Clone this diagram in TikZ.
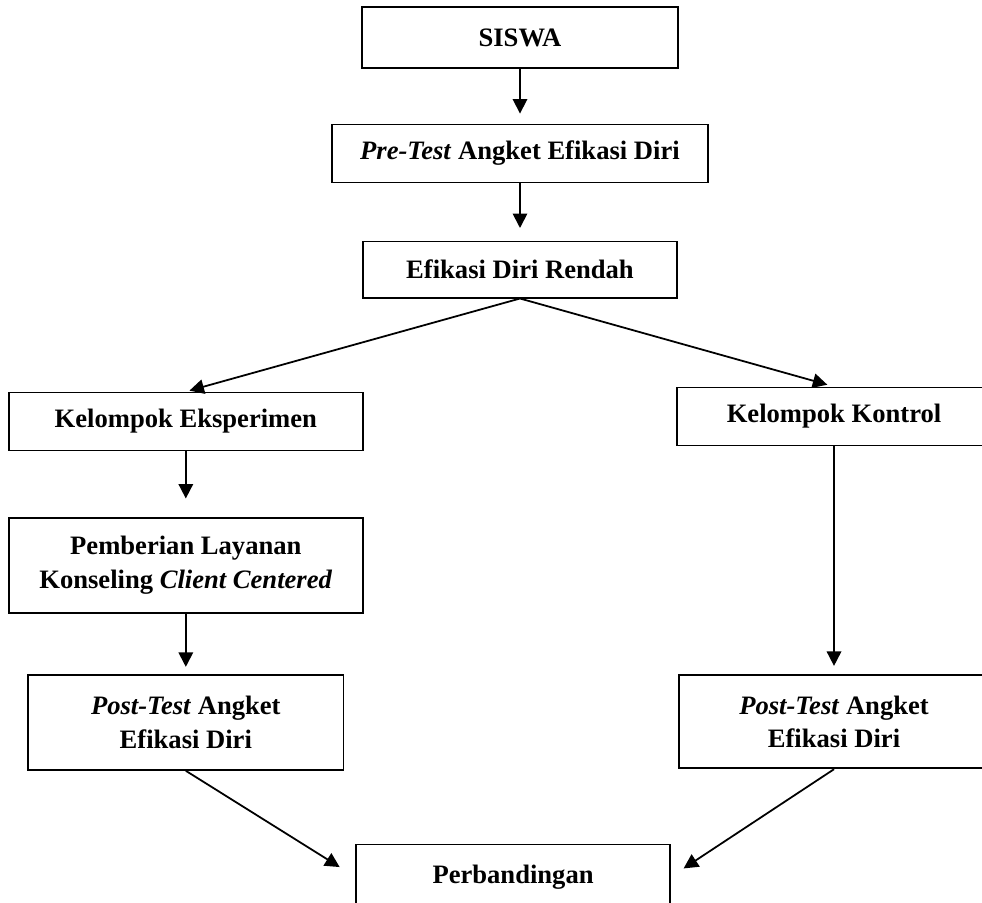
\documentclass[tikz,border=0pt]{standalone}
\usepackage{fontspec}
\setmainfont{Liberation Serif}
\usetikzlibrary{arrows.meta}

\tikzstyle{box} = [rectangle, minimum width=4.98cm, minimum height=0.92cm, inner sep=0pt, text centered, draw=black, thick, font=\fontsize{12}{15}\selectfont\bfseries]
\tikzstyle{boxtall} = [box, minimum height=1.51cm, align=center]
\tikzstyle{arrow} = [thick,-{Triangle[length=0.23cm,width=0.23cm]}]

\begin{document}
\begin{tikzpicture}[node distance=1.84cm]
		\useasboundingbox (0,0) rectangle (15.574,-14.321);
		
		\node (siswa) [box, minimum width=5.01cm, minimum height=0.97cm] at (8.247,-0.595) {SISWA};
		\node (pretest) [box, minimum width=5.96cm, below of=siswa] {\textit{Pre-Test} Angket Efikasi Diri};
		\node (rendah) [box, minimum height=0.89cm, below of=pretest] {Efikasi Diri Rendah};
		
		\node (eksperimen) [box, minimum width=5.61cm, below of=rendah, xshift=-5.3cm, yshift=-0.57cm] {Kelompok Eksperimen};
		\node (kontrol) [box, below of=rendah, xshift=4.98cm, yshift=-0.49cm] {Kelompok Kontrol};
		
		\node (layanan) [boxtall, minimum width=5.61cm, below of=eksperimen, yshift=-0.44cm] {Pemberian Layanan\\Konseling \textit{Client Centered}};
		\node (postE) [boxtall, minimum width=5cm, below of=layanan, yshift=-0.65cm] {\textit{Post-Test} Angket\\Efikasi Diri};
		\node (postK) [boxtall, minimum width=4.92cm, minimum height=1.48cm, below of=kontrol, yshift=-3cm] {\textit{Post-Test} Angket\\Efikasi Diri};
		
		\node (banding) [box, minimum height=1.02cm, below of=postE, xshift=5.19cm, yshift=-0.61cm] {Perbandingan};
		
		\draw [arrow, shorten >=0.16cm] (siswa) -- (pretest);
		\draw [arrow, shorten >=0.2cm] (pretest) -- (rendah);
		\draw [arrow, shorten >=0.06cm] (rendah.south) -- (eksperimen.north);
		\draw [arrow, shorten >=0.11cm] (rendah.south) -- (kontrol.north);
		\draw [arrow, shorten >=0.29cm] (eksperimen) -- (layanan);
		\draw [arrow, shorten >=0.11cm] (layanan) -- (postE);
		\draw [arrow, shorten >=0.13cm] (kontrol) -- (postK);
		\draw [arrow, shorten >=0.29cm] (postE.south) -- (banding.west);
		\draw [arrow, shorten >=0.24cm] (postK.south) -- (banding.east);
	
	\end{tikzpicture}
\end{document}
